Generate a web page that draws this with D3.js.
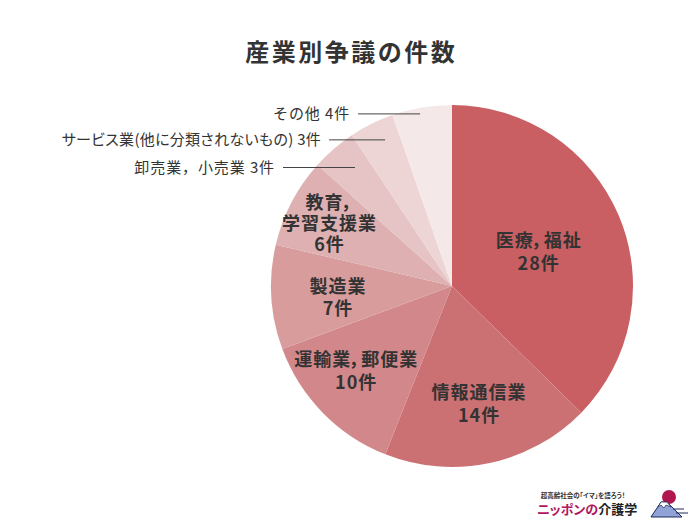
<!DOCTYPE html>
<html><head><meta charset="utf-8">
<script src="https://cdn.jsdelivr.net/npm/d3@7"></script>
<style>
html,body{margin:0;padding:0;background:#fff;}
svg{display:block;font-family:"Noto Sans CJK JP","Noto Sans",sans-serif;}
</style></head>
<body>
<svg id="c" width="700" height="525"></svg>
<script>
// ---- data ----
const categories = ["医療，福祉","情報通信業","運輸業，郵便業","製造業","教育，学習支援業","卸売業，小売業","サービス業(他に分類されないもの)","その他"];
const labelLines = [["医療，福祉"],["情報通信業"],["運輸業，郵便業"],["製造業"],["教育，","学習支援業"],["卸売業，小売業"],["サービス業(他に分類されないもの)"],["その他"]];
const values = [28,14,10,7,6,3,3,4];
const unit = "件";
const colors = ["#c95f63","#cc7173","#d2878a","#d89c9d","#deb0b1","#e6c4c5","#edd5d5","#f5e8e8"];
const title = "産業別争議の件数";
// label placement (style)
const labelMode = ["in","in","in","in","in","out","out","out"];
const labelRadius = [0.514,0.662,0.706,0.635,0.765,0.846,0.888,0.967];
const labelAngleShift = [0.7,-0.8,3.3,-1.7,-0.3,1.5,1.8,-0.9];
const lineLen = [0,0,0,0,0,72,56,62];
const labelPalt = [1,1,1,1,1,0,1,0];

const svg = d3.select("#c");
const cx = 452, cy = 286, R = 181;

svg.append("text").attr("x",350+1.25).attr("y",61).attr("text-anchor","middle")
  .attr("font-size",24).attr("font-weight",700).attr("letter-spacing",2.5)
  .attr("fill","#333").text(title);

const pie = d3.pie().sort(null).value(d=>d)(values);
const arc = d3.arc().innerRadius(0).outerRadius(R);
const g = svg.append("g").attr("transform",`translate(${cx},${cy})`);
g.selectAll("path").data(pie).join("path")
  .attr("d",arc).attr("fill",(d,i)=>colors[i]);

pie.forEach((d,i)=>{
  const a = (d.startAngle+d.endAngle)/2 + labelAngleShift[i]*Math.PI/180;
  const r = R*labelRadius[i];
  const x = Math.sin(a)*r, y = -Math.cos(a)*r;
  const ff = labelPalt[i] ? "\"palt\"" : "normal";
  if(labelMode[i]==="in"){
    const lines = labelLines[i].concat([values[i]+unit]);
    const lh = lines.length>2 ? 21 : 22.5;
    const t = g.append("text").attr("text-anchor","middle").style("font-feature-settings",ff)
      .attr("font-size",18).attr("font-weight",700).attr("letter-spacing",1).attr("fill","#333");
    lines.forEach((s,k)=>{
      t.append("tspan").attr("x",x+0.5).attr("y",y+(k-(lines.length-1)/2)*lh+7.5).text(s);
    });
  } else {
    const len = lineLen[i];
    g.append("line").attr("x1",x).attr("y1",y).attr("x2",x-len).attr("y2",y)
      .attr("stroke","#444").attr("stroke-width",1);
    g.append("text").attr("x",x-len-8).attr("y",y+5.5).attr("text-anchor","end")
      .style("font-feature-settings",ff)
      .attr("font-size",15).attr("letter-spacing",labelPalt[i]?0.3:0.9).attr("fill","#333")
      .text(labelLines[i][0]+" "+values[i]+unit);
  }
});

// ---- logo ----
const lg = svg.append("g").style("font-feature-settings","\"palt\"");
lg.append("text").attr("x",583).attr("y",497.5).attr("text-anchor","middle")
  .attr("font-size",6.5).attr("font-weight",700).attr("fill","#333").text("超高齢社会の「イマ」を語ろう！");
const lt = lg.append("text").attr("x",537).attr("y",514).attr("font-size",13).attr("font-weight",700);
lt.append("tspan").attr("fill","#b0175f").text("ニッポンの");
lt.append("tspan").attr("fill","#222").text("介護学");
lg.append("circle").attr("cx",669).attr("cy",497).attr("r",7).attr("fill","#b0174f");
lg.append("path").attr("d","M651,517 L661,502 L667,502 L682,517 Z").attr("fill","#8fa3d6").attr("stroke","#1e2a5a").attr("stroke-width",1);
lg.append("path").attr("d","M661,502 L667,502 L671,507 L666,505 L664,508 L661,505 L658,507 Z").attr("fill","#fff").attr("stroke","#1e2a5a").attr("stroke-width",0.7);
lg.append("path").attr("d","M673,509 L684,509 M676,513 L688,513").attr("stroke","#1e2a5a").attr("stroke-width",1);
</script>
</body></html>
